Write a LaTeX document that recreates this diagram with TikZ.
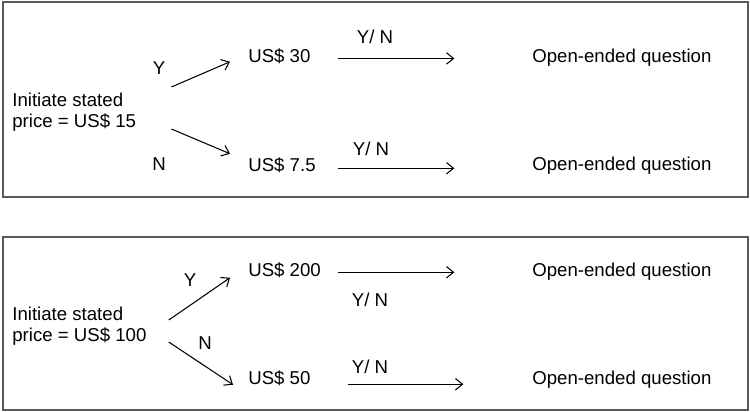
\documentclass[tikz,border=0pt]{standalone}
\usepackage{fontspec}
\setmainfont{Liberation Sans}
\usetikzlibrary{arrows.meta}
\tikzstyle{frame} = [draw=black!65, line width=0.6pt]
\tikzstyle{txt} = [inner sep=0pt, font=\fontsize{10.6}{11.9}\selectfont]
\tikzstyle{start} = [txt, anchor=west, align=left]
\tikzstyle{bid} = [txt, anchor=base west]
\tikzstyle{answer} = [txt, anchor=base]
\tikzstyle{arrow} = [line width=0.6pt, -{Straight Barb[length=4pt,width=6.5pt]}]

\begin{document}
\begin{tikzpicture}[x=0.02cm, y=-0.02cm]
    \useasboundingbox (0,0) rectangle (750,412);
    % first sequence
    \draw [frame] (3,2) rectangle (748,197);
    \node (init1) [start] at (12,112) {Initiate stated\\price = US\$ 15};
    \node (high1) [bid] at (248,63) {US\$ 30};
    \node (low1) [bid] at (248,171.5) {US\$ 7.5};
    \node (open1a) [bid] at (532,63) {Open-ended question};
    \node (open1b) [bid] at (532,170.6) {Open-ended question};
    \node (yes1) [answer] at (159,74.6) {Y};
    \node (no1) [answer] at (159,170.5) {N};
    \node (yn1a) [answer] at (375,43.6) {Y/ N};
    \node (yn1b) [answer] at (371,155.6) {Y/ N};
    \draw [arrow] ([shift={(35,-25)}]init1.east) -- ([shift={(-18,5)}]high1.west);
    \draw [arrow] ([shift={(35,17)}]init1.east) -- ([shift={(-18,-11.5)}]low1.west);
    \draw [arrow, shorten >=44.2pt] ([shift={(27,1.7)}]high1.east) coordinate (s1a) -- (s1a -| open1a.west);
    \draw [arrow, shorten >=44.2pt] ([shift={(22,3)}]low1.east) coordinate (s1b) -- (s1b -| open1b.west);
    % second sequence
    \draw [frame] (3,237) rectangle (748,410);
    \node (init2) [start] at (12,326) {Initiate stated\\price = US\$ 100};
    \node (high2) [bid] at (248,276.6) {US\$ 200};
    \node (low2) [bid] at (248,384.6) {US\$ 50};
    \node (open2a) [bid] at (532,276.6) {Open-ended question};
    \node (open2b) [bid] at (532,384.6) {Open-ended question};
    \node (yes2) [answer] at (190,286.6) {Y};
    \node (no2) [answer] at (205,349.6) {N};
    \node (yn2a) [answer] at (370,306.6) {Y/ N};
    \node (yn2b) [answer] at (370,373.6) {Y/ N};
    \draw [arrow] ([shift={(22,-6)}]init2.east) -- ([shift={(-18,7.4)}]high2.west);
    \draw [arrow] ([shift={(22,16)}]init2.east) -- ([shift={(-15,6.4)}]low2.west);
    \draw [arrow, shorten >=44.2pt] ([shift={(17,1.9)}]high2.east) coordinate (s2a) -- (s2a -| open2a.west);
    \draw [arrow, shorten >=39.1pt] ([shift={(37,5.9)}]low2.east) coordinate (s2b) -- (s2b -| open2b.west);
\end{tikzpicture}
\end{document}
